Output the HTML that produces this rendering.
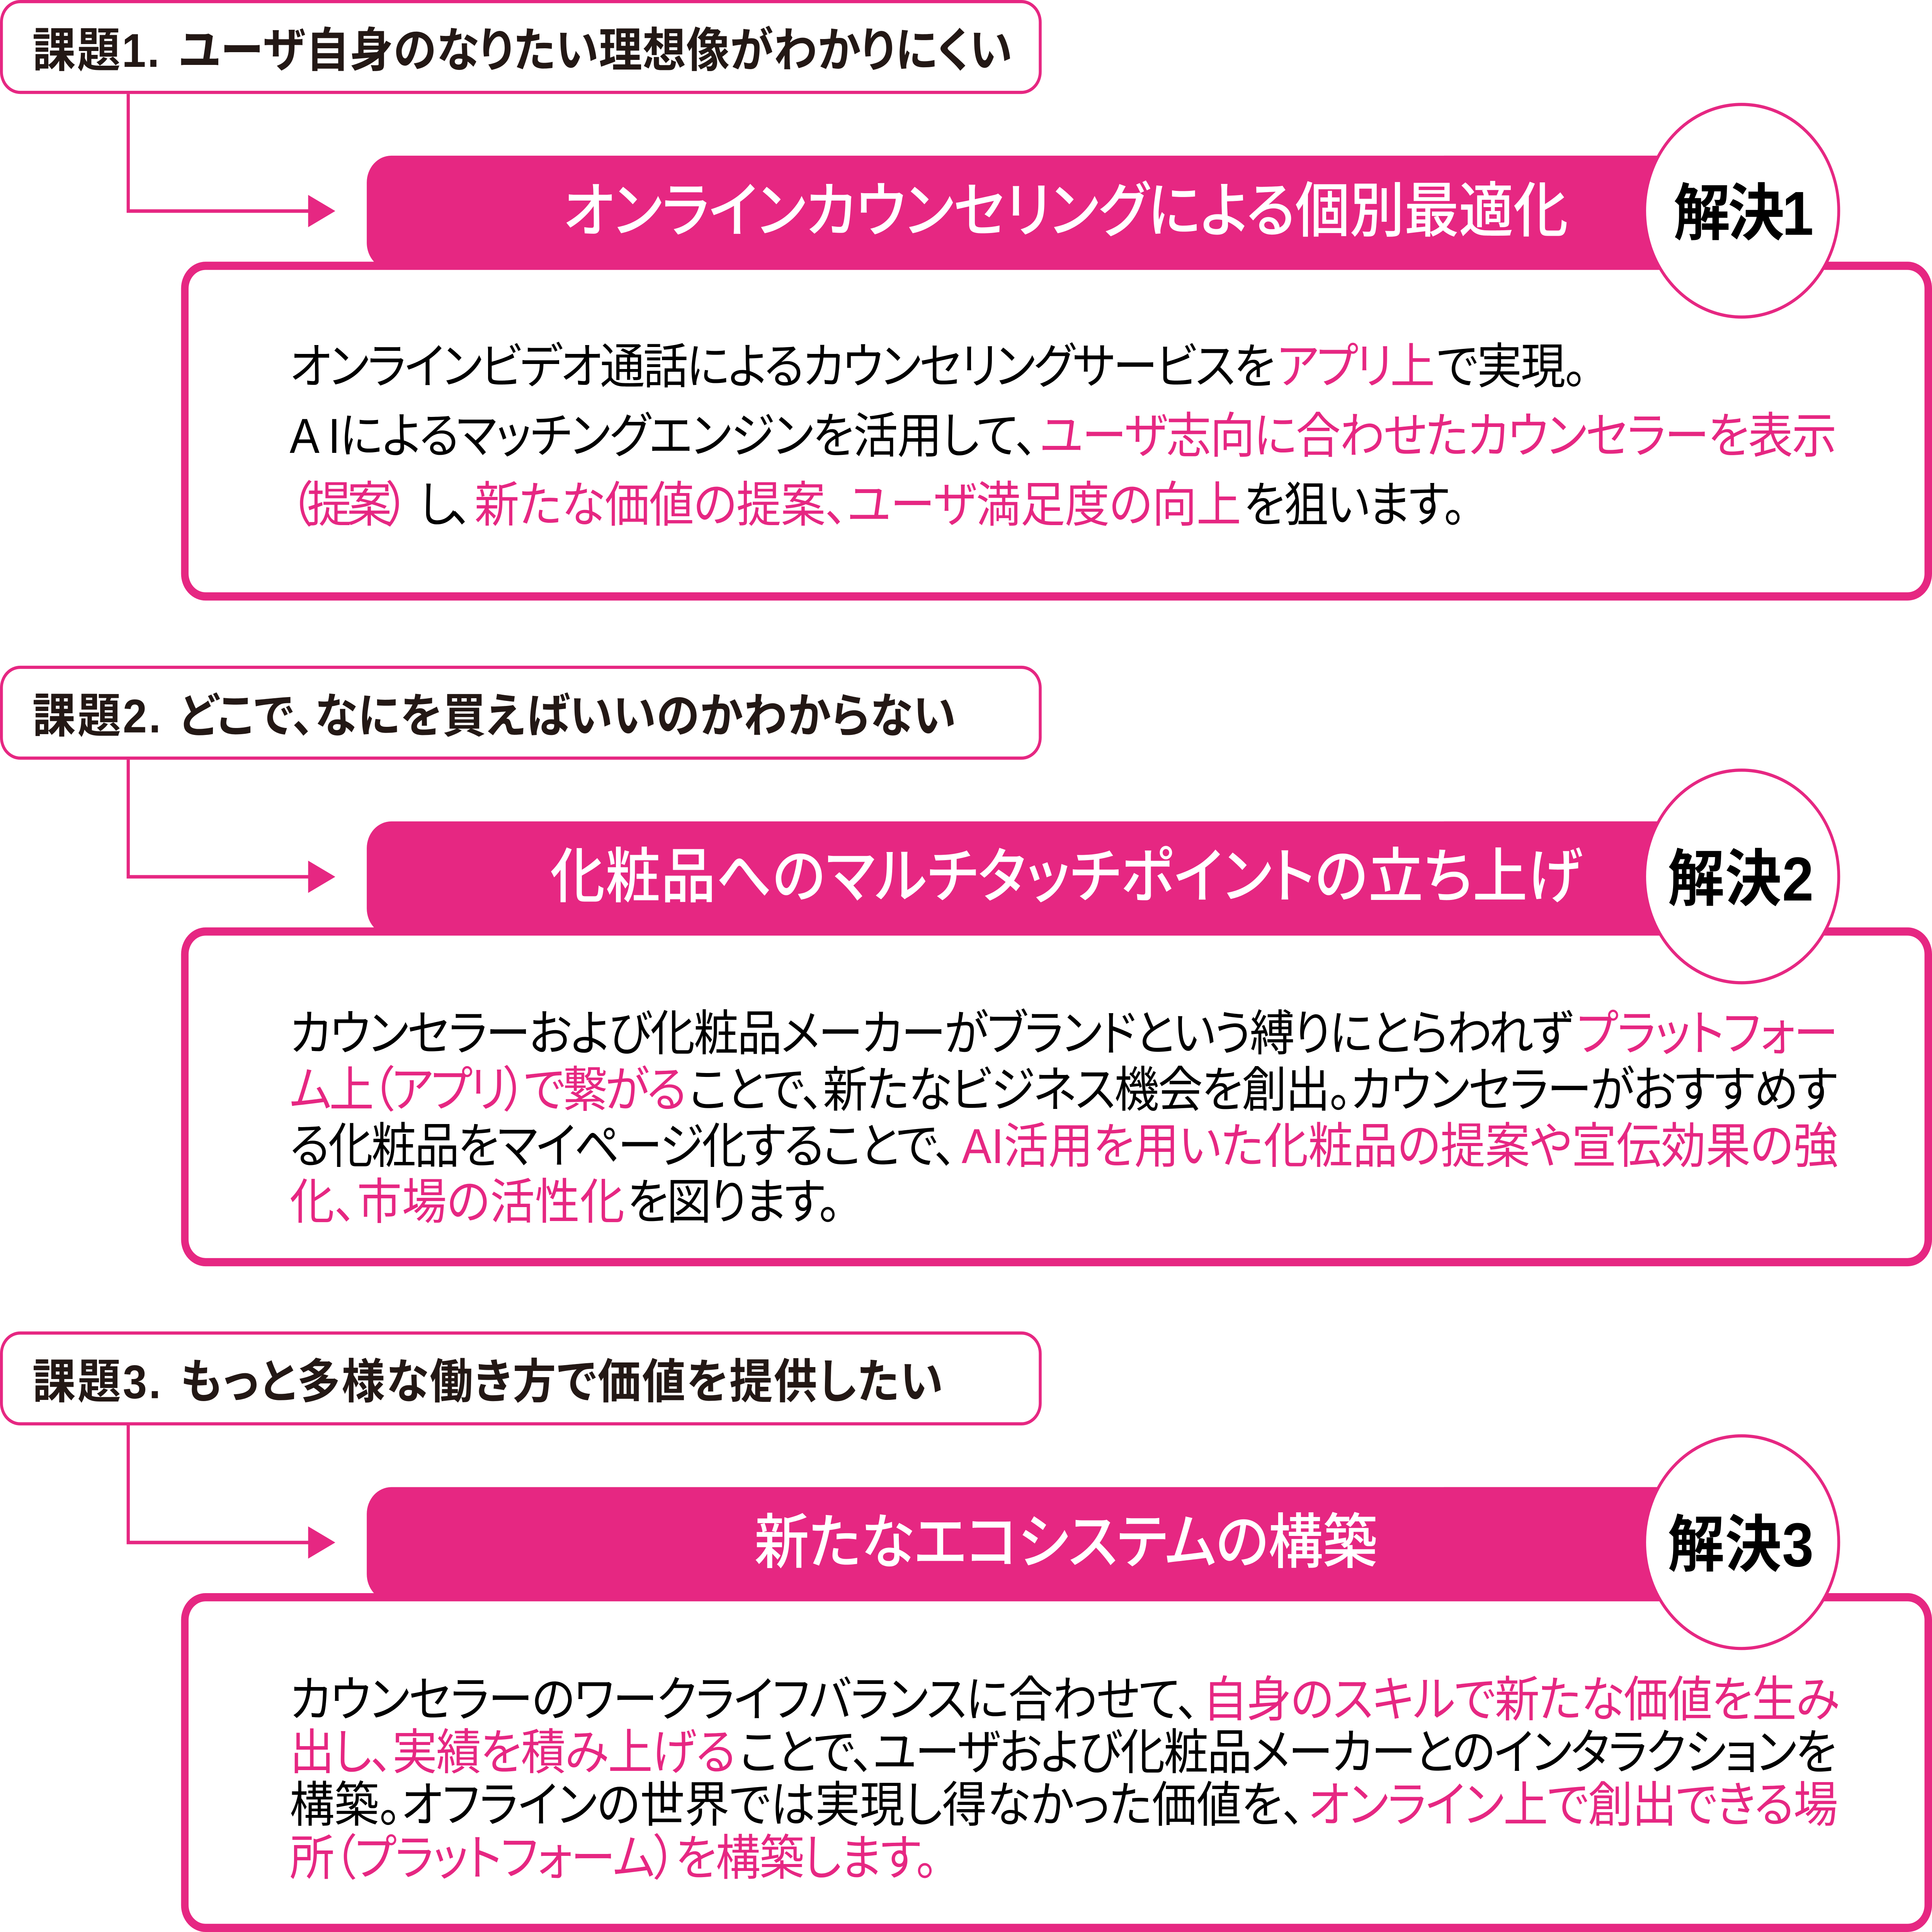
<!DOCTYPE html>
<html lang="ja">
<head>
<meta charset="utf-8">
<title>課題と解決</title>
<style>
html,body{margin:0;padding:0;background:#fff;width:100%;height:100%;overflow:hidden}
svg{display:block;position:fixed;left:0;top:0;width:100vw;height:100vh}
text{font-family:"Liberation Sans","Noto Sans CJK JP",sans-serif;font-feature-settings:"palt";white-space:pre}
.l{font-size:150px;font-weight:700;fill:#231815}
.h{font-size:190px;font-weight:500;fill:#fff}
.s{font-size:196px;font-weight:700;fill:#000}
.b{font-size:155px;font-weight:400;fill:#000}
.p{font-size:155px;font-weight:400;fill:#E62782}
</style>
</head>
<body>
<svg xmlns="http://www.w3.org/2000/svg" viewBox="0 0 6690 6106" preserveAspectRatio="none">
<rect width="6690" height="6106" fill="#fff"/>

<!-- Set 1 -->
<g>
<rect x="5" y="5" width="3597" height="287" rx="65" ry="65" fill="#fff" stroke="#E62782" stroke-width="10"/>
<path d="M444 297V667H1070" fill="none" stroke="#E62782" stroke-width="11"/>
<path d="M1067 616L1161 667L1067 718Z" fill="#E62782"/>
<rect x="640" y="840" width="6037" height="1045" rx="72" ry="72" fill="#fff" stroke="#E62782" stroke-width="26"/>
<rect x="1270" y="492" width="4800" height="360" rx="85" ry="85" fill="#E62782"/>
<rect x="5000" y="492" width="1100" height="360" fill="#E62782"/>
<circle cx="6031" cy="666" r="336" fill="#fff" stroke="#E62782" stroke-width="10"/>
<text class="l" x="112" y="211" textLength="440" lengthAdjust="spacing">課題1.</text>
<text class="l" x="620" y="211" textLength="2885" lengthAdjust="spacing">ユーザ自身のなりたい理想像がわかりにくい</text>
<text class="h" x="1950" y="732" textLength="3480" lengthAdjust="spacing">オンラインカウンセリングによる個別最適化</text>
<text class="s" x="5795" y="742" textLength="485" lengthAdjust="spacing">解決1</text>
<text class="b" x="1003" y="1212" textLength="3413" lengthAdjust="spacing">オンラインビデオ通話によるカウンセリングサービスを</text>
<text class="p" x="4422" y="1212" textLength="547" lengthAdjust="spacing">アプリ上</text>
<text class="b" x="4975" y="1212" textLength="520" lengthAdjust="spacing">で実現。</text>
<text class="b" x="1003" y="1431" textLength="2590" lengthAdjust="spacing">A Iによるマッチングエンジンを活用して、</text>
<text class="p" x="3600" y="1431" textLength="2760" lengthAdjust="spacing">ユーザ志向に合わせたカウンセラーを表示</text>
<text class="p" x="1003" y="1649" textLength="414" lengthAdjust="spacing">（提案）</text>
<text class="b" x="1451" y="1649" textLength="185" lengthAdjust="spacing">し、</text>
<text class="p" x="1643" y="1649" textLength="2655" lengthAdjust="spacing">新たな価値の提案、ユーザ満足度の向上</text>
<text class="b" x="4306" y="1649" textLength="770" lengthAdjust="spacing">を狙います。</text>
</g>

<!-- Set 2 -->
<g>
<rect x="5" y="2109" width="3597" height="287" rx="65" ry="65" fill="#fff" stroke="#E62782" stroke-width="10"/>
<path d="M444 2401V2771H1070" fill="none" stroke="#E62782" stroke-width="11"/>
<path d="M1067 2720L1161 2771L1067 2822Z" fill="#E62782"/>
<rect x="640" y="2944" width="6037" height="1045" rx="72" ry="72" fill="#fff" stroke="#E62782" stroke-width="26"/>
<rect x="1270" y="2596" width="4800" height="360" rx="85" ry="85" fill="#E62782"/>
<rect x="5000" y="2596" width="1100" height="360" fill="#E62782"/>
<circle cx="6031" cy="2770" r="336" fill="#fff" stroke="#E62782" stroke-width="10"/>
<text class="l" x="112" y="2315" textLength="445" lengthAdjust="spacing">課題2.</text>
<text class="l" x="620" y="2315" textLength="2690" lengthAdjust="spacing">どこで、なにを買えばいいのかわからない</text>
<text class="h" x="1905" y="2836" textLength="3575" lengthAdjust="spacing">化粧品へのマルチタッチポイントの立ち上げ</text>
<text class="s" x="5775" y="2846" textLength="505" lengthAdjust="spacing">解決2</text>
<text class="b" x="1003" y="3320" textLength="4445" lengthAdjust="spacing">カウンセラーおよび化粧品メーカーがブランドという縛りにとらわれず</text>
<text class="p" x="5460" y="3320" textLength="905" lengthAdjust="spacing">プラットフォー</text>
<text class="p" x="1003" y="3498" textLength="1375" lengthAdjust="spacing">ム上（アプリ）で繋がる</text>
<text class="b" x="2385" y="3498" textLength="3978" lengthAdjust="spacing">ことで、新たなビジネス機会を創出。カウンセラーがおすすめす</text>
<text class="b" x="1003" y="3676" textLength="2310" lengthAdjust="spacing">る化粧品をマイページ化することで、</text>
<text class="p" x="3330" y="3676" textLength="3035" lengthAdjust="spacing">AI活用を用いた化粧品の提案や宣伝効果の強</text>
<text class="p" x="1003" y="3852" textLength="1160" lengthAdjust="spacing">化、市場の活性化</text>
<text class="b" x="2172" y="3852" textLength="740" lengthAdjust="spacing">を図ります。</text>
</g>

<!-- Set 3 -->
<g>
<rect x="5" y="4213" width="3597" height="287" rx="65" ry="65" fill="#fff" stroke="#E62782" stroke-width="10"/>
<path d="M444 4505V4875H1070" fill="none" stroke="#E62782" stroke-width="11"/>
<path d="M1067 4824L1161 4875L1067 4926Z" fill="#E62782"/>
<rect x="640" y="5048" width="6037" height="1045" rx="72" ry="72" fill="#fff" stroke="#E62782" stroke-width="26"/>
<rect x="1270" y="4700" width="4800" height="360" rx="85" ry="85" fill="#E62782"/>
<rect x="5000" y="4700" width="1100" height="360" fill="#E62782"/>
<circle cx="6031" cy="4874" r="336" fill="#fff" stroke="#E62782" stroke-width="10"/>
<text class="l" x="112" y="4419" textLength="445" lengthAdjust="spacing">課題3.</text>
<text class="l" x="625" y="4419" textLength="2640" lengthAdjust="spacing">もっと多様な働き方で価値を提供したい</text>
<text class="h" x="2612" y="4940" textLength="2158" lengthAdjust="spacing">新たなエコシステムの構築</text>
<text class="s" x="5775" y="4950" textLength="505" lengthAdjust="spacing">解決3</text>
<text class="b" x="1003" y="5425" textLength="3150" lengthAdjust="spacing">カウンセラーのワークライフバランスに合わせて、</text>
<text class="p" x="4165" y="5425" textLength="2205" lengthAdjust="spacing">自身のスキルで新たな価値を生み</text>
<text class="p" x="1003" y="5592" textLength="1545" lengthAdjust="spacing">出し、実績を積み上げる</text>
<text class="b" x="2560" y="5592" textLength="3800" lengthAdjust="spacing">ことで、ユーザおよび化粧品メーカーとのインタラクションを</text>
<text class="b" x="1003" y="5758" textLength="3515" lengthAdjust="spacing">構築。オフラインの世界では実現し得なかった価値を、</text>
<text class="p" x="4530" y="5758" textLength="1835" lengthAdjust="spacing">オンライン上で創出できる場</text>
<text class="p" x="1003" y="5926" textLength="2245" lengthAdjust="spacing">所（プラットフォーム）を構築します。</text>
</g>
</svg>
</body>
</html>
